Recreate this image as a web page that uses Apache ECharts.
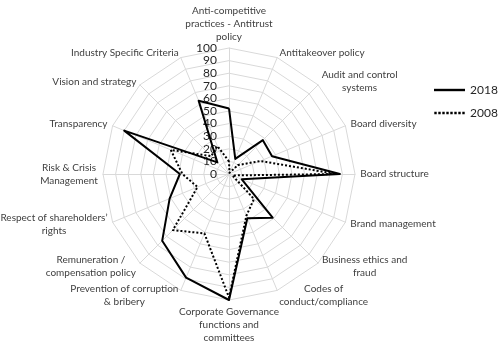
<!DOCTYPE html>
<html>
<head>
<meta charset="utf-8">
<script src="https://cdn.jsdelivr.net/npm/echarts@6/dist/echarts.min.js"></script>
<style>html,body{margin:0;padding:0;background:#fff}#c{width:501px;height:355px}</style>
</head>
<body>
<div id="c"></div>
<script>
// Categories in clockwise order starting at the top
const categories = [
  "Anti-competitive\npractices - Antitrust\npolicy",
  "Antitakeover policy",
  "Audit and control\nsystems",
  "Board diversity",
  "Board structure",
  "Brand management",
  "Business ethics and\nfraud",
  "Codes of\nconduct/compliance",
  "Corporate Governance\nfunctions and\ncommittees",
  "Prevention of corruption\n& bribery",
  "Remuneration /\ncompensation policy",
  "Respect of shareholders’\nrights",
  "Risk & Crisis\nManagement",
  "Transparency",
  "Vision and strategy",
  "Industry Specific Criteria"
];
const values2018 = [52, 13, 38, 37, 88, 11, 49, 38, 100, 89, 75, 51, 39, 90, 13, 63];
const values2008 = [10, 1, 10, 27, 85, 3, 28, 36, 98, 51, 63, 27, 37, 50, 20, 24];
const seriesNames = ["2018", "2008"];
const axisMax = 100;

// ECharts radar runs counter-clockwise: keep first item, reverse the rest
function ccw(arr) { return [arr[0]].concat(arr.slice(1).reverse()); }

const FONT = 'Lato';
const nameSize = 10;
const ctx = document.createElement('canvas').getContext('2d');
ctx.font = nameSize + 'px ' + FONT;
const rich = {};
const keyOf = {};
categories.forEach(function (c, i) {
  const lines = c.split('\n');
  const w = Math.ceil(Math.max.apply(null, lines.map(function (l) { return ctx.measureText(l).width; })));
  const k = 'n' + i;
  keyOf[c] = k;
  rich[k] = { width: w, align: 'center', fontFamily: FONT, fontSize: nameSize, color: '#404040', lineHeight: 13 };
});

const indicators = ccw(categories).map(function (c, i) {
  const o = { name: c, max: axisMax, min: 0 };
  if (i === 0) o.axisLabel = { show: true };
  return o;
});

// legend icons: solid bar and a row of dots
let dots = '';
for (let i = 0; i < 8; i++) { dots += 'M' + (i * 4) + ',0h2.4v2.4h-2.4z'; }
const dottedIcon = 'path://' + dots;

const chart = echarts.init(document.getElementById('c'));
chart.setOption({
  animation: false,
  legend: {
    orient: 'vertical',
    left: 434,
    top: 84,
    itemWidth: 31,
    itemHeight: 2.4,
    itemGap: 11,
    padding: 0,
    textStyle: { fontFamily: FONT, fontSize: 12, color: '#262626' },
    itemStyle: { color: '#000', borderWidth: 0 },
    data: [
      { name: seriesNames[0], icon: 'rect' },
      { name: seriesNames[1], icon: dottedIcon }
    ]
  },
  radar: {
    center: [229, 174],
    radius: 126,
    startAngle: 90,
    shape: 'polygon',
    splitNumber: 10,
    nameGap: 5,
    axisName: {
      formatter: function (v) {
        const k = keyOf[v];
        return v.split('\n').map(function (l) { return '{' + k + '|' + l + '}'; }).join('\n');
      },
      rich: rich,
      color: '#404040',
      fontFamily: FONT,
      fontSize: nameSize
    },
    indicator: indicators,
    axisLine: { lineStyle: { color: '#d9d9d9', width: 1 } },
    splitLine: { lineStyle: { color: '#d9d9d9', width: 1 } },
    splitArea: { show: false },
    axisTick: { show: false },
    axisLabel: { show: false, margin: 12, color: '#262626', fontFamily: FONT, fontSize: 12 }
  },
  series: [{
    type: 'radar',
    symbol: 'none',
    data: [
      { name: seriesNames[0], value: ccw(values2018), lineStyle: { color: '#000', width: 2, type: 'solid' }, itemStyle: { color: '#000' } },
      { name: seriesNames[1], value: ccw(values2008), lineStyle: { color: '#000', width: 2, type: 'dotted' }, itemStyle: { color: '#000' } }
    ]
  }]
});
</script>
</body>
</html>
